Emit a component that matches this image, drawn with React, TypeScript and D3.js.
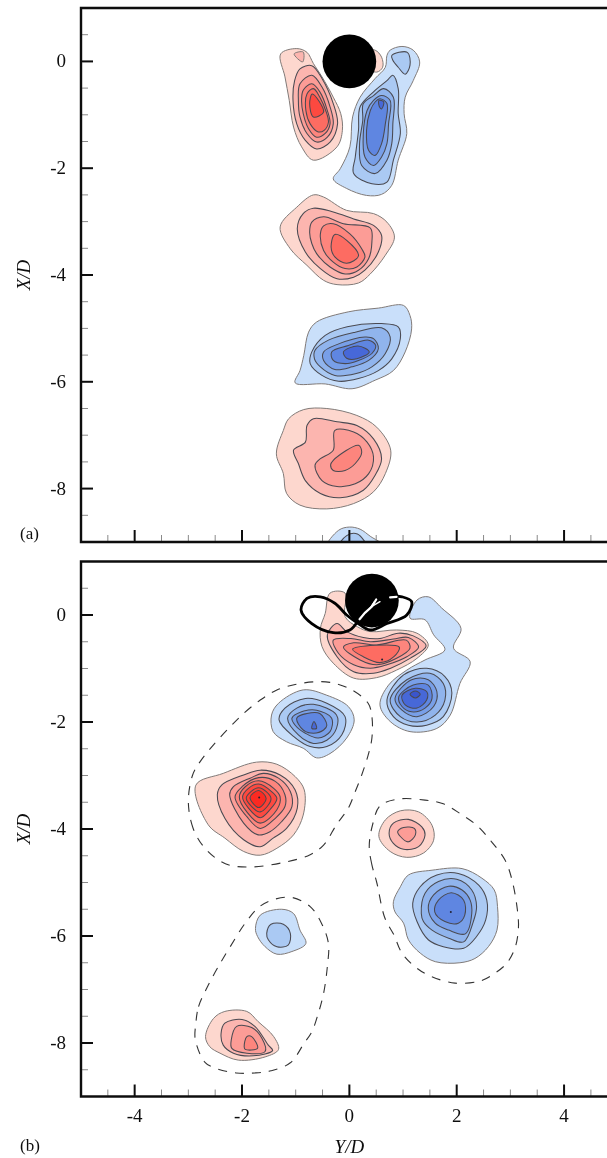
import React from "react";
import * as d3 from "d3";

type P = [number, number];

const W = 607, H = 1158;
const xMajor = [-4, -2, 0, 2, 4];
const yMajor = [0, -2, -4, -6, -8];
const xMinor = [-4.5, -3.5, -3, -2.5, -1.5, -1, -0.5, 0.5, 1, 1.5, 2.5, 3, 3.5, 4.5];
const yMinor = [0.5, -0.5, -1, -1.5, -2.5, -3, -3.5, -4.5, -5, -5.5, -6.5, -7, -7.5, -8.5];
const redLevels = ["#fdd7ce", "#fcb5af", "#fc9c96", "#fd857d", "#fd6c62", "#fd4a3f", "#fd4034", "#fb2c20"];
const blueLevels = ["#c9dffa", "#aac9f3", "#90b4ed", "#789fe8", "#5f86e1", "#4768d8", "#3a55cc"];

// Panel (a) — contour levels, each a ring of [Y/D, X/D]
const aRedNear: P[][] = [
  [[-1.28,.14],[-.98,.24],[-.79,.17],[-.67,-.04],[-.51,-.29],[-.30,-.67],[-.16,-.98],[-.13,-1.29],[-.23,-1.60],[-.67,-1.85],[-.89,-1.60],[-1.04,-1.23],[-1.12,-.73],[-1.20,-.29]],
  [[-.92,-.14],[-.70,-.08],[-.51,-.32],[-.30,-.79],[-.22,-1.17],[-.36,-1.51],[-.61,-1.64],[-.82,-1.48],[-.98,-1.17],[-1.05,-.73],[-1.02,-.36]],
  [[-.92,-.42],[-.70,-.26],[-.51,-.48],[-.36,-.85],[-.30,-1.17],[-.41,-1.42],[-.61,-1.51],[-.79,-1.35],[-.92,-1.04],[-.95,-.73]],
  [[-.86,-.54],[-.70,-.42],[-.55,-.57],[-.41,-.92],[-.36,-1.17],[-.45,-1.35],[-.61,-1.42],[-.76,-1.26],[-.86,-.98],[-.89,-.73]],
  [[-.79,-.61],[-.67,-.51],[-.55,-.67],[-.43,-.95],[-.39,-1.14],[-.47,-1.29],[-.58,-1.32],[-.73,-1.17],[-.81,-.92]],
  [[-.69,-.61],[-.48,-.95],[-.67,-1.04],[-.74,-.79]],
];
const aRedTip: P[][] = [
  [[-1.28,.14],[-.98,.24],[-.79,.17],[-.98,.05]],
  [[-1.03,.14],[-.86,.175],[-.87,-.01]],
];
const aRedRight: P[][] = [[[.30,.2],[.48,.21],[.60,.08],[.62,-.11],[.51,-.20],[.30,-.1]]];
const aBlueNear: P[][] = [
  [[.76,.21],[.98,.28],[1.19,.21],[1.31,-.01],[1.19,-.36],[1.04,-.67],[1.02,-.98],[1.07,-1.35],[.91,-1.85],[.79,-2.32],[.60,-2.49],[.32,-2.51],[-.05,-2.38],[-.30,-2.20],[-.17,-2.01],[.01,-1.60],[.06,-1.04],[.20,-.67],[.48,-.32],[.67,-.11],[.70,.11]],
  [[.81,-.26],[.91,-.51],[.91,-.98],[.95,-1.35],[.82,-1.85],[.70,-2.26],[.42,-2.29],[.08,-2.10],[.11,-1.79],[.17,-1.29],[.20,-.85],[.45,-.57],[.70,-.36]],
  [[.64,-.51],[.82,-.67],[.81,-1.17],[.79,-1.54],[.70,-1.85],[.48,-2.10],[.23,-1.95],[.19,-1.54],[.25,-1.10],[.26,-.79],[.45,-.64]],
  [[.60,-.64],[.76,-.73],[.73,-1.17],[.70,-1.54],[.60,-1.79],[.45,-1.95],[.29,-1.79],[.26,-1.35],[.33,-.92],[.45,-.73]],
  [[.57,-.70],[.70,-.79],[.67,-1.17],[.60,-1.54],[.48,-1.76],[.36,-1.67],[.32,-1.29],[.39,-.92],[.48,-.76]],
  [[.55,-.73],[.64,-.76],[.60,-.89],[.56,-.85]],
];
const aBlueTip: P[][] = [
  [],
  [[.79,.11],[1.08,.17],[1.13,-.07],[1.04,-.24],[.91,-.11],[.81,.02]],
];
const aRedMid: P[][] = [
  [[-1.29,-3.10],[-.98,-2.73],[-.67,-2.50],[-.48,-2.54],[-.05,-2.79],[.45,-2.85],[.70,-3.01],[.84,-3.29],[.67,-3.63],[.39,-3.98],[.17,-4.15],[-.23,-4.18],[-.48,-4.10],[-.79,-3.82],[-1.10,-3.51]],
  [[-.97,-3.13],[-.86,-2.85],[-.67,-2.75],[-.30,-2.82],[.08,-2.95],[.45,-3.07],[.60,-3.26],[.54,-3.57],[.29,-3.91],[.08,-4.04],[-.23,-4.07],[-.54,-3.88],[-.82,-3.57]],
  [[-.74,-3.20],[-.70,-3.01],[-.48,-2.91],[-.11,-3.04],[.39,-3.12],[.42,-3.38],[.36,-3.69],[.17,-3.91],[-.08,-3.98],[-.36,-3.85],[-.61,-3.60],[-.70,-3.41]],
  [[-.54,-3.23],[-.48,-3.08],[-.30,-3.04],[.01,-3.23],[.23,-3.51],[.29,-3.66],[.14,-3.85],[-.08,-3.88],[-.30,-3.76],[-.48,-3.54]],
  [[-.27,-3.24],[-.05,-3.35],[.17,-3.64],[-.05,-3.78],[-.27,-3.66],[-.34,-3.48]],
];
const aBlueMid: P[][] = [
  [[-.61,-4.88],[-.02,-4.69],[.54,-4.62],[1.01,-4.57],[1.13,-4.76],[1.16,-5.01],[1.04,-5.44],[.82,-5.79],[.48,-5.97],[.05,-6.13],[-.45,-6.04],[-1.01,-6.02],[-.92,-5.79],[-.85,-5.51],[-.76,-5.07]],
  [[-.70,-5.44],[-.45,-5.13],[-.04,-4.97],[.60,-4.91],[.91,-4.97],[.95,-5.19],[.79,-5.57],[.54,-5.79],[.17,-5.94],[-.20,-5.99],[-.51,-5.88],[-.73,-5.66]],
  [[-.64,-5.41],[-.39,-5.22],[.11,-5.07],[.60,-4.99],[.76,-5.16],[.67,-5.47],[.42,-5.72],[.11,-5.85],[-.27,-5.88],[-.54,-5.72],[-.65,-5.57]],
  [[-.48,-5.44],[-.20,-5.29],[.29,-5.16],[.45,-5.19],[.54,-5.38],[.36,-5.60],[.05,-5.72],[-.27,-5.77],[-.48,-5.60]],
  [[-.33,-5.44],[-.02,-5.32],[.36,-5.22],[.49,-5.32],[.42,-5.47],[.17,-5.60],[-.08,-5.66],[-.30,-5.60]],
  [[-.11,-5.44],[.16,-5.33],[.37,-5.44],[.14,-5.57],[-.05,-5.56]],
];
const aRedLow: P[][] = [
  [[-1.13,-6.69],[-.85,-6.52],[-.42,-6.50],[.14,-6.63],[.51,-6.85],[.77,-7.28],[.67,-7.72],[.45,-8.06],[.08,-8.28],[-.42,-8.38],[-.92,-8.31],[-1.17,-8.09],[-1.23,-7.72],[-1.36,-7.35],[-1.23,-6.91]],
  [[-.79,-6.82],[-.67,-6.69],[-.23,-6.75],[.14,-6.82],[.45,-7.07],[.60,-7.44],[.48,-7.75],[.26,-8.03],[-.17,-8.17],[-.54,-8.09],[-.82,-7.85],[-.95,-7.53],[-1.04,-7.28],[-.82,-7.13]],
  [[-.27,-6.91],[.08,-6.94],[.33,-7.13],[.45,-7.41],[.36,-7.72],[.11,-7.91],[-.23,-7.96],[-.51,-7.85],[-.64,-7.56],[-.54,-7.44],[-.30,-7.28]],
  [[-.30,-7.47],[.17,-7.19],[.23,-7.32],[.11,-7.53],[-.08,-7.66],[-.30,-7.66],[-.35,-7.56]],
];
const aBlueEdge: P[][] = [
  [[-.42,-9.1],[-.2,-8.78],[0,-8.72],[.2,-8.76],[.4,-8.9],[.7,-9.1]],
  [[-.2,-9.1],[-.05,-8.88],[.15,-8.85],[.32,-9.1]],
];

// Panel (b)
const bRedNear: P[][] = [
  [[-.54,-.25],[-.45,.03],[-.36,.41],[-.08,.41],[-.08,-.03],[.15,-.22],[.39,-.31],[.88,-.28],[1.26,-.34],[1.47,-.56],[1.26,-.81],[.88,-1.03],[.51,-1.17],[.08,-1.18],[-.30,-.90],[-.51,-.59]],
  [[-.41,-.37],[-.23,-.16],[-.05,-.31],[.26,-.42],[.57,-.44],[.91,-.34],[1.19,-.39],[1.43,-.58],[1.13,-.81],[.76,-.998],[.45,-1.09],[.08,-1.06],[-.23,-.78]],
  [[-.30,-.47],[.03,-.44],[.39,-.50],[.82,-.45],[1.10,-.42],[1.29,-.60],[1.07,-.78],[.70,-.93],[.39,-.995],[.08,-.93],[-.20,-.72]],
  [[-.11,-.60],[.08,-.52],[.51,-.56],[1.06,-.47],[1.13,-.62],[.88,-.81],[.51,-.93],[.20,-.84]],
  [[.06,-.64],[.93,-.60],[.83,-.78],[.57,-.89],[.26,-.78]],
];
const bBlueNear: P[][] = [
  [[1.13,-.06],[1.26,.28],[1.47,.34],[1.72,.13],[2.08,-.25],[1.94,-.62],[2.25,-.87],[2.06,-1.28],[1.88,-1.87],[1.63,-2.12],[1.13,-2.18],[.76,-1.99],[.57,-1.68],[.73,-1.31],[1.07,-1.03],[1.41,-.84],[1.78,-.65],[1.57,-.37],[1.41,-.09]],
  [[.70,-1.59],[1.01,-1.12],[1.44,-.997],[1.78,-1.15],[1.91,-1.46],[1.75,-1.90],[1.44,-2.06],[1.10,-2.06],[.82,-1.90]],
  [[.76,-1.59],[1.07,-1.21],[1.50,-1.09],[1.75,-1.28],[1.78,-1.59],[1.60,-1.87],[1.26,-2.0],[.95,-1.90]],
  [[.85,-1.56],[1.16,-1.21],[1.47,-1.21],[1.63,-1.43],[1.57,-1.71],[1.26,-1.90],[.98,-1.78]],
  [[.92,-1.53],[1.19,-1.31],[1.47,-1.31],[1.54,-1.56],[1.41,-1.74],[1.16,-1.81],[.98,-1.71]],
  [[.98,-1.50],[1.23,-1.37],[1.44,-1.43],[1.44,-1.59],[1.26,-1.74],[1.04,-1.68]],
  [[1.13,-1.48],[1.23,-1.42],[1.32,-1.48],[1.23,-1.55]],
];
const bBlueUpper: P[][] = [
  [[-1.45,-1.87],[-1.32,-1.65],[-.86,-1.40],[-.42,-1.50],[-.02,-1.71],[.09,-1.96],[-.05,-2.30],[-.36,-2.59],[-.61,-2.67],[-.86,-2.49],[-1.17,-2.37],[-1.42,-2.18]],
  [[-1.31,-1.96],[-1.20,-1.74],[-.82,-1.56],[-.42,-1.65],[-.08,-1.90],[-.14,-2.24],[-.42,-2.46],[-.73,-2.46],[-1.04,-2.27]],
  [[-1.15,-1.93],[-.98,-1.74],[-.67,-1.67],[-.24,-1.87],[-.24,-2.12],[-.42,-2.34],[-.67,-2.40],[-.95,-2.24]],
  [[-1.07,-1.93],[-.89,-1.81],[-.61,-1.78],[-.33,-1.93],[-.36,-2.18],[-.58,-2.30],[-.82,-2.21],[-1.01,-2.06]],
  [[-.98,-1.93],[-.79,-1.84],[-.55,-1.84],[-.42,-2.06],[-.48,-2.15],[-.67,-2.21],[-.86,-2.15]],
  [[-.66,-1.99],[-.61,-2.12],[-.70,-2.12]],
];
const bRedLeft: P[][] = [
  [[-2.86,-3.18],[-2.35,-2.96],[-1.73,-2.75],[-1.35,-2.79],[-1.01,-3.02],[-.84,-3.27],[-.86,-3.74],[-1.04,-4.11],[-1.35,-4.36],[-1.66,-4.49],[-1.97,-4.42],[-2.32,-4.17],[-2.63,-3.92]],
  [[-2.46,-3.36],[-2.38,-3.18],[-1.97,-2.99],[-1.66,-2.90],[-1.29,-2.99],[-1.01,-3.27],[-.97,-3.61],[-1.17,-3.99],[-1.42,-4.17],[-1.66,-4.33],[-1.97,-4.20],[-2.32,-3.80]],
  [[-2.23,-3.36],[-2.16,-3.21],[-1.85,-3.05],[-1.60,-2.96],[-1.32,-3.05],[-1.10,-3.30],[-1.07,-3.58],[-1.26,-3.86],[-1.48,-4.05],[-1.70,-4.11],[-1.97,-3.89]],
  [[-2.13,-3.40],[-2.00,-3.21],[-1.69,-3.04],[-1.38,-3.11],[-1.20,-3.36],[-1.20,-3.58],[-1.38,-3.80],[-1.66,-3.99],[-1.91,-3.77]],
  [[-2.05,-3.40],[-1.94,-3.21],[-1.69,-3.10],[-1.41,-3.24],[-1.29,-3.40],[-1.35,-3.64],[-1.66,-3.89],[-1.91,-3.68]],
  [[-1.99,-3.40],[-1.88,-3.24],[-1.69,-3.16],[-1.45,-3.30],[-1.35,-3.43],[-1.48,-3.64],[-1.66,-3.79],[-1.88,-3.61]],
  [[-1.92,-3.41],[-1.69,-3.23],[-1.46,-3.43],[-1.66,-3.68],[-1.85,-3.55]],
  [[-1.85,-3.41],[-1.69,-3.28],[-1.55,-3.43],[-1.69,-3.60]],
];
const bRedRight: P[][] = [
  [[.55,-4.14],[.67,-3.83],[.95,-3.66],[1.29,-3.68],[1.54,-3.93],[1.57,-4.21],[1.38,-4.45],[1.07,-4.53],[.76,-4.42]],
  [[.74,-4.08],[.82,-3.89],[1.10,-3.82],[1.35,-3.96],[1.41,-4.11],[1.29,-4.33],[1.01,-4.38],[.82,-4.27]],
  [[.90,-4.05],[1.01,-3.97],[1.21,-3.99],[1.23,-4.11],[1.10,-4.24],[.95,-4.14]],
];
const bBlueRight: P[][] = [
  [[.82,-5.36],[.95,-5.08],[1.10,-4.86],[1.54,-4.77],[2.10,-4.74],[2.47,-4.92],[2.70,-5.14],[2.76,-5.45],[2.75,-5.89],[2.59,-6.20],[2.34,-6.42],[2.06,-6.50],[1.60,-6.48],[1.32,-6.32],[1.10,-6.07],[1.01,-5.76],[.85,-5.55]],
  [[1.18,-5.39],[1.32,-5.08],[1.63,-4.86],[2.03,-4.83],[2.41,-5.05],[2.56,-5.33],[2.54,-5.70],[2.37,-6.01],[2.13,-6.23],[1.75,-6.20],[1.47,-6.07],[1.26,-5.73]],
  [[1.34,-5.58],[1.41,-5.20],[1.66,-4.98],[2.00,-4.94],[2.28,-5.14],[2.37,-5.45],[2.31,-5.73],[2.13,-6.11],[1.85,-6.04],[1.54,-5.89],[1.38,-5.73]],
  [[1.47,-5.48],[1.57,-5.23],[1.85,-5.07],[2.10,-5.14],[2.25,-5.33],[2.28,-5.58],[2.16,-5.96],[1.85,-5.89],[1.60,-5.76]],
  [[1.59,-5.55],[1.66,-5.33],[1.90,-5.19],[2.13,-5.33],[2.15,-5.61],[2.03,-5.76],[1.78,-5.73]],
];
const bBlueLow: P[][] = [
  [[-1.75,-5.86],[-1.66,-5.61],[-1.26,-5.50],[-1.04,-5.58],[-.92,-5.89],[-.81,-6.14],[-1.07,-6.29],[-1.35,-6.34],[-1.57,-6.20],[-1.71,-6.01]],
  [[-1.54,-5.95],[-1.46,-5.78],[-1.23,-5.78],[-1.10,-5.95],[-1.14,-6.17],[-1.35,-6.20],[-1.51,-6.07]],
];
const bRedLow: P[][] = [
  [[-2.68,-7.88],[-2.53,-7.54],[-2.32,-7.41],[-1.91,-7.41],[-1.70,-7.60],[-1.41,-7.88],[-1.32,-8.12],[-1.57,-8.26],[-2.07,-8.32],[-2.41,-8.19],[-2.60,-8.07]],
  [[-2.39,-7.82],[-2.32,-7.63],[-2.00,-7.56],[-1.76,-7.69],[-1.51,-8.04],[-1.43,-8.14],[-1.79,-8.24],[-2.16,-8.19],[-2.35,-8.04]],
  [[-2.20,-7.94],[-2.10,-7.69],[-1.82,-7.71],[-1.63,-7.91],[-1.57,-8.16],[-1.91,-8.19],[-2.19,-8.10]],
  [[-1.96,-8.07],[-1.91,-7.88],[-1.82,-7.88],[-1.71,-8.10],[-1.94,-8.12]],
];
const bDots: P[] = [[.61,-.83],[-1.68,-3.41],[1.89,-5.55]];

// Dashed vortex-pair outlines in panel (b)
const dashUpper: P[] = [[-2.69,-4.36],[-2.91,-3.99],[-3.00,-3.49],[-2.92,-2.99],[-2.78,-2.74],[-2.56,-2.46],[-2.25,-2.12],[-1.97,-1.84],[-1.66,-1.59],[-1.35,-1.40],[-1.01,-1.30],[-.67,-1.25],[-.36,-1.26],[.01,-1.38],[.35,-1.65],[.42,-1.90],[.42,-2.30],[.35,-2.62],[.23,-2.99],[.11,-3.30],[-.02,-3.61],[-.24,-3.92],[-.48,-4.30],[-.73,-4.48],[-1.20,-4.62],[-1.85,-4.71],[-2.31,-4.65]];
const dashRight: P[] = [[.51,-5.0],[.42,-4.67],[.37,-4.33],[.43,-3.93],[.57,-3.57],[.92,-3.44],[1.41,-3.46],[1.75,-3.53],[2.06,-3.71],[2.37,-3.93],[2.65,-4.24],[2.90,-4.58],[3.03,-4.95],[3.13,-5.51],[3.15,-5.85],[3.09,-6.21],[2.94,-6.50],[2.72,-6.69],[2.44,-6.84],[1.97,-6.88],[1.51,-6.75],[1.23,-6.58],[.98,-6.32],[.83,-5.98],[.66,-5.66]];
const dashLow: P[] = [[-2.86,-7.63],[-2.81,-7.32],[-2.63,-6.92],[-2.44,-6.57],[-2.22,-6.20],[-1.94,-5.76],[-1.66,-5.44],[-1.38,-5.31],[-1.07,-5.28],[-.73,-5.45],[-.52,-5.76],[-.39,-6.14],[-.41,-6.57],[-.48,-7.07],[-.58,-7.45],[-.70,-7.79],[-.84,-8.0],[-1.10,-8.37],[-1.46,-8.52],[-1.76,-8.56],[-2.11,-8.56],[-2.50,-8.47],[-2.69,-8.36],[-2.87,-7.94]];

// Cylinder path (figure-of-eight) and the white trace on the cylinder
const orbit: P[] = [[.14,-.14],[.01,-.28],[-.30,-.33],[-.70,-.16],[-.90,.09],[-.79,.31],[-.54,.34],[-.27,.22],[-.05,.00],[.14,-.14],[.39,-.28],[.70,-.16],[1.07,.0],[1.16,.25],[.98,.34],[.76,.355]];
const traceStem: P[] = [[.19,-.08],[.29,.04],[.42,.16],[.50,.29]];
const traceBranchA: P[] = [[.42,.16],[.57,.25]];
const traceBranchB: P[] = [[.38,.12],[.47,.25]];
const traceDash: P[] = [[.76,.33],[.88,.34]];
const cylinderA: P = [0, 0];
const cylinderB: P = [0.42, 0.27];
const cylinderR = 0.5;

const x = d3.scaleLinear().domain([-5, 4.8]).range([81, 607]);
const yA = d3.scaleLinear().domain([1, -9]).range([8, 542]);
const yB = d3.scaleLinear().domain([1, -9]).range([561.5, 1096.5]);

const SERIF = "'Liberation Serif', serif";

function Contours({ levels, colors, y }: { levels: P[][]; colors: string[]; y: any }) {
  const ring = d3.line<P>().x(d => x(d[0])).y(d => y(d[1])).curve(d3.curveCatmullRomClosed.alpha(0.5));
  return (
    <g>
      {levels.map((pts, i) => pts.length ? (
        <path key={i} d={ring(pts) ?? ""} fill={colors[i]} stroke={i === 0 ? "#807a78" : "#4a4a52"} strokeWidth={i === 0 ? 1 : 1.05} strokeLinejoin="round" />
      ) : null)}
    </g>
  );
}

function Axes({ y, labelled }: { y: any; labelled: boolean }) {
  const [d0, d1] = y.domain();
  const top = y(d0), bot = y(d1);
  const left = x(-5);
  return (
    <g>
      {xMinor.map(v => <line key={v} x1={x(v)} x2={x(v)} y1={bot} y2={bot - 7} stroke="#8a8a8a" strokeWidth={1} />)}
      {yMinor.map(v => <line key={v} x1={left} x2={left + 7} y1={y(v)} y2={y(v)} stroke="#8a8a8a" strokeWidth={1} />)}
      {xMajor.map(v => <line key={v} x1={x(v)} x2={x(v)} y1={bot} y2={bot - 12} stroke="#111" strokeWidth={2} />)}
      {yMajor.map(v => <line key={v} x1={left} x2={left + 12} y1={y(v)} y2={y(v)} stroke="#111" strokeWidth={2} />)}
      <path d={`M${W},${top}H${left}V${bot}H${W}`} fill="none" stroke="#111" strokeWidth={2.4} />
      {yMajor.map(v => (
        <text key={v} x={left - 15} y={y(v) + 6} textAnchor="end" fontSize={19} fontFamily={SERIF} fill="#111">{v}</text>
      ))}
      {labelled && xMajor.map(v => (
        <text key={v} x={x(v)} y={bot + 25} textAnchor="middle" fontSize={19} fontFamily={SERIF} fill="#111">{v}</text>
      ))}
    </g>
  );
}

export default function App() {
  const open = d3.line<P>().x(d => x(d[0])).y(d => yB(d[1]));
  const smooth = d3.line<P>().x(d => x(d[0])).y(d => yB(d[1])).curve(d3.curveCatmullRom.alpha(0.5));
  const dashed = d3.line<P>().x(d => x(d[0])).y(d => yB(d[1])).curve(d3.curveCatmullRomClosed.alpha(0.5));
  const rx = x(cylinderR) - x(0);
  return (
    <svg width={W} height={H} viewBox={`0 0 ${W} ${H}`} style={{ position: "absolute", left: 0, top: 0, display: "block", background: "#fff" }}>
      <defs>
        <clipPath id="clipA"><rect x={81} y={8} width={526} height={534} /></clipPath>
        <filter id="soft" x="-2%" y="-2%" width="104%" height="104%"><feGaussianBlur stdDeviation="0.35" /></filter>
      </defs>
      <g filter="url(#soft)">
        <g clipPath="url(#clipA)">
          <Contours levels={aRedRight} colors={redLevels} y={yA} />
          <Contours levels={aRedNear} colors={redLevels} y={yA} />
          <Contours levels={aRedTip.slice(1)} colors={[redLevels[1]]} y={yA} />
          <Contours levels={aBlueNear} colors={blueLevels} y={yA} />
          <Contours levels={aBlueTip} colors={blueLevels} y={yA} />
          <Contours levels={aRedMid} colors={redLevels} y={yA} />
          <Contours levels={aBlueMid} colors={blueLevels} y={yA} />
          <Contours levels={aRedLow} colors={redLevels} y={yA} />
          <Contours levels={aBlueEdge} colors={blueLevels} y={yA} />
        </g>
        <circle cx={x(cylinderA[0])} cy={yA(cylinderA[1])} r={rx} fill="#000" />
        <Axes y={yA} labelled={false} />

        <Contours levels={bRedNear} colors={redLevels} y={yB} />
        <Contours levels={bBlueNear} colors={blueLevels} y={yB} />
        <Contours levels={bBlueUpper} colors={blueLevels} y={yB} />
        <Contours levels={bRedLeft} colors={redLevels} y={yB} />
        <Contours levels={bRedRight} colors={redLevels} y={yB} />
        <Contours levels={bBlueRight} colors={blueLevels} y={yB} />
        <Contours levels={bBlueLow} colors={blueLevels} y={yB} />
        <Contours levels={bRedLow} colors={redLevels} y={yB} />
        {bDots.map((d, i) => <circle key={i} cx={x(d[0])} cy={yB(d[1])} r={1} fill="#223" />)}
        {[dashUpper, dashRight, dashLow].map((d, i) => (
          <path key={i} d={dashed(d) ?? ""} fill="none" stroke="#333" strokeWidth={1.1} strokeDasharray="9 8" />
        ))}
        <path d={smooth(orbit) ?? ""} fill="none" stroke="#000" strokeWidth={2.8} />
        <circle cx={x(cylinderB[0])} cy={yB(cylinderB[1])} r={rx} fill="#000" />
        {[traceStem, traceBranchA, traceBranchB, traceDash].map((d, i) => (
          <path key={i} d={open(d) ?? ""} fill="none" stroke="#fff" strokeWidth={i === 0 || i === 3 ? 2.2 : 1.4} strokeLinecap="round" />
        ))}
        <Axes y={yB} labelled />

        <text transform={`translate(30,${yA(-4)}) rotate(-90)`} textAnchor="middle" fontSize={19} fontStyle="italic" fontFamily={SERIF} fill="#111">X/D</text>
        <text transform={`translate(30,${yB(-4)}) rotate(-90)`} textAnchor="middle" fontSize={19} fontStyle="italic" fontFamily={SERIF} fill="#111">X/D</text>
        <text x={x(0)} y={1153} textAnchor="middle" fontSize={19} fontStyle="italic" fontFamily={SERIF} fill="#111">Y/D</text>
        <text x={20} y={539} fontSize={17} fontFamily={SERIF} fill="#111">(a)</text>
        <text x={20} y={1151} fontSize={17} fontFamily={SERIF} fill="#111">(b)</text>
      </g>
    </svg>
  );
}
